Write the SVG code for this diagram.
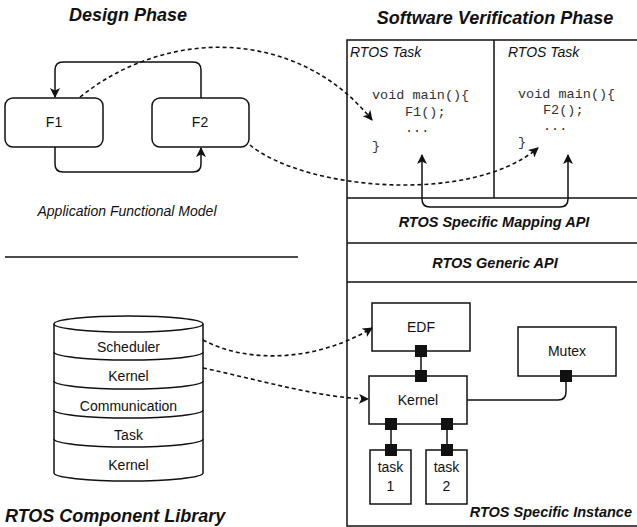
<svg xmlns="http://www.w3.org/2000/svg" width="637" height="527" viewBox="0 0 637 527">
  <style>
    .box { fill: #fff; stroke: #111; stroke-width: 1.5; }
    .line { fill: none; stroke: #111; stroke-width: 1.5; }
    .dash { fill: none; stroke: #111; stroke-width: 1.6; stroke-dasharray: 4 3; }
    .port { fill: #111; }
    .lbl { font-family: "Liberation Sans", Arial, sans-serif; font-size: 14px; fill: #111; text-anchor: middle; }
    .title { font-family: "Liberation Sans", Arial, sans-serif; font-size: 18px; font-weight: bold; font-style: italic; fill: #111; }
    .band { font-family: "Liberation Sans", Arial, sans-serif; font-size: 14.5px; font-weight: bold; font-style: italic; fill: #111; }
    .mid { text-anchor: middle; }
    .end { text-anchor: end; }
    .it { font-family: "Liberation Sans", Arial, sans-serif; font-size: 14px; font-style: italic; fill: #111; }
    .code { font-family: "Liberation Mono", "Courier New", monospace; font-size: 13.5px; fill: #333; }
  </style>
  <defs>
    <marker id="arrow" viewBox="0 0 10 10" refX="9" refY="5" markerWidth="10" markerHeight="10" markerUnits="userSpaceOnUse" orient="auto-start-reverse">
      <path d="M0 0 L10 5 L0 10 L2.5 5 Z" fill="#111"/>
    </marker>
  </defs>

  <!-- titles -->
  <text class="title mid" x="128" y="21">Design Phase</text>
  <text class="title mid" x="495" y="24">Software Verification Phase</text>
  <text class="title" x="5" y="522">RTOS Component Library</text>

  <!-- design phase: functional model -->
  <g id="f1">
    <rect class="box" x="5" y="98" width="98" height="49" rx="8"/>
    <text class="lbl" x="54" y="127">F1</text>
  </g>
  <g id="f2">
    <rect class="box" x="152" y="98" width="97" height="49" rx="8"/>
    <text class="lbl" x="200" y="127">F2</text>
  </g>
  <text class="it mid" x="127" y="216">Application Functional Model</text>
  <line class="line" x1="5" y1="257" x2="298" y2="257"/>

  <!-- component library cylinder -->
  <g id="library">
    <path class="box" d="M54 324 V473 A74 8 0 0 0 203 473 V324"/>
    <ellipse class="box" cx="128.5" cy="324" rx="74.5" ry="8"/>
    <path class="line" d="M54 352 A74.5 8 0 0 0 203 352"/>
    <path class="line" d="M54 381 A74.5 8 0 0 0 203 381"/>
    <path class="line" d="M54 410 A74.5 8 0 0 0 203 410"/>
    <path class="line" d="M54 439 A74.5 8 0 0 0 203 439"/>
    <text class="lbl" x="128.5" y="352">Scheduler</text>
    <text class="lbl" x="128.5" y="381">Kernel</text>
    <text class="lbl" x="128.5" y="411">Communication</text>
    <text class="lbl" x="128.5" y="440">Task</text>
    <text class="lbl" x="128.5" y="470">Kernel</text>
  </g>

  <!-- verification platform frame -->
  <g id="platform">
    <rect class="box" x="347" y="40" width="300" height="486"/>
    <line class="line" x1="494" y1="40" x2="494" y2="198"/>
    <line class="line" x1="347" y1="198" x2="640" y2="198"/>
    <line class="line" x1="347" y1="243" x2="640" y2="243" stroke-width="2"/>
    <line class="line" x1="347" y1="282" x2="640" y2="282"/>
  </g>
  <g id="task-a">
    <text class="it" x="350" y="57">RTOS Task</text>
    <text class="code" x="372" y="99">void main(){</text>
    <text class="code" x="405" y="116">F1();</text>
    <text class="code" x="405" y="132">...</text>
    <text class="code" x="372" y="150">}</text>
  </g>
  <g id="task-b">
    <text class="it" x="508" y="57">RTOS Task</text>
    <text class="code" x="518" y="98">void main(){</text>
    <text class="code" x="543" y="114">F2();</text>
    <text class="code" x="543" y="130">...</text>
    <text class="code" x="518" y="146">}</text>
  </g>
  <g id="mapping-api">
    <text class="band mid" x="494" y="227">RTOS Specific Mapping API</text>
  </g>
  <g id="generic-api">
    <text class="band mid" x="495" y="268">RTOS Generic API</text>
  </g>
  <text class="band end" x="632" y="517">RTOS Specific Instance</text>

  <!-- instance components -->
  <g id="edf">
    <rect class="box" x="372" y="303" width="98" height="48"/>
    <text class="lbl" x="421" y="332">EDF</text>
  </g>
  <g id="mutex">
    <rect class="box" x="518" y="327" width="98" height="49"/>
    <text class="lbl" x="567" y="356">Mutex</text>
  </g>
  <g id="kernel">
    <rect class="box" x="369" y="376" width="98" height="48"/>
    <text class="lbl" x="418" y="405">Kernel</text>
  </g>
  <g id="task1">
    <rect class="box" x="370" y="450" width="41" height="54"/>
    <text class="lbl" x="390.5" y="472">task</text>
    <text class="lbl" x="390.5" y="491">1</text>
  </g>
  <g id="task2">
    <rect class="box" x="426" y="450" width="41" height="54"/>
    <text class="lbl" x="446.5" y="472">task</text>
    <text class="lbl" x="446.5" y="491">2</text>
  </g>

  <!-- connectors -->
  <g id="connectors">
    <path class="line" d="M201 98 V70 Q201 62 193 62 H63 Q55 62 55 70 V97" marker-end="url(#arrow)"/>
    <path class="line" d="M55 147 V164 Q55 172 63 172 H193 Q201 172 201 164 V148" marker-end="url(#arrow)"/>
    <path class="line" d="M422 155 V199 Q422 207 430 207 H560 Q568 207 568 199 V155" marker-start="url(#arrow)" marker-end="url(#arrow)"/>

    <path class="dash" d="M80 97 C170 25, 300 30, 372 120" marker-end="url(#arrow)"/>
    <path class="dash" d="M250 145 C305 190, 470 205, 538 148" marker-end="url(#arrow)"/>
    <path class="dash" d="M203 340 C250 365, 320 360, 372 328" marker-end="url(#arrow)"/>
    <path class="dash" d="M203 368 C260 380, 320 398, 368 399" marker-end="url(#arrow)"/>

    <line class="line" x1="421" y1="351" x2="421" y2="376"/>
    <line class="line" x1="391" y1="424" x2="391" y2="450"/>
    <line class="line" x1="447" y1="424" x2="447" y2="450"/>
    <path class="line" d="M467 400 H558 Q566 400 566 392 V376"/>

    <rect class="port" x="415" y="345" width="12" height="12"/>
    <rect class="port" x="415" y="370" width="12" height="12"/>
    <rect class="port" x="385" y="418" width="12" height="12"/>
    <rect class="port" x="441" y="418" width="12" height="12"/>
    <rect class="port" x="385" y="444" width="12" height="12"/>
    <rect class="port" x="441" y="444" width="12" height="12"/>
    <rect class="port" x="560" y="370" width="12" height="12"/>
  </g>
</svg>
